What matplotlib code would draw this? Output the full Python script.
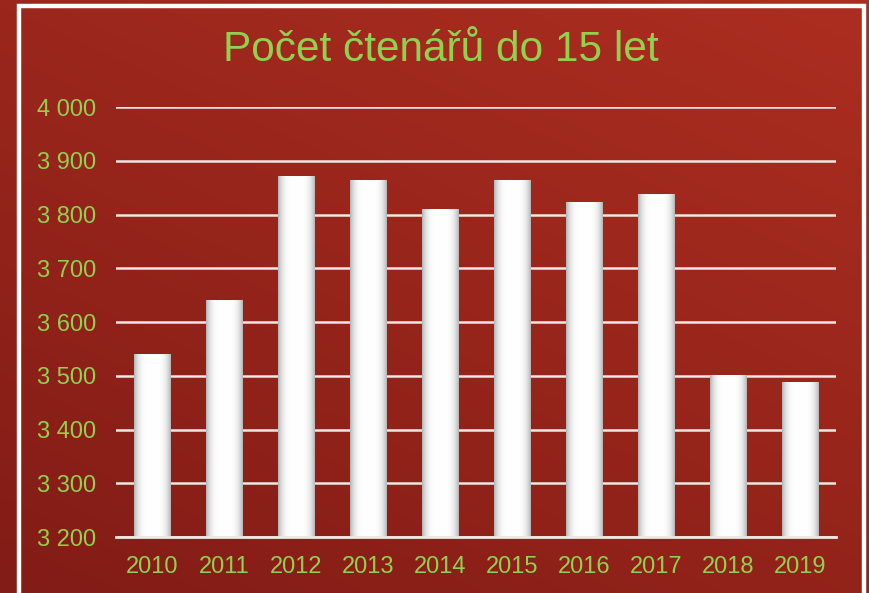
import numpy as np
import matplotlib
matplotlib.use('Agg')
import matplotlib.pyplot as plt
from matplotlib.ticker import FuncFormatter

years = ['2010', '2011', '2012', '2013', '2014', '2015', '2016', '2017', '2018', '2019']
readers = [3540, 3641, 3872, 3865, 3810, 3864, 3823, 3839, 3501, 3488]
y_ticks = [3200, 3300, 3400, 3500, 3600, 3700, 3800, 3900, 4000]

green = '#92D050'
plt.rcParams['font.family'] = ['Liberation Sans', 'DejaVu Sans']

fig = plt.figure(figsize=(8.70, 5.93), dpi=100)

# background gradient (lighter top right, darker bottom left)
bg = fig.add_axes([0, 0, 1, 1])
yy, xx = np.mgrid[0:1:200j, 0:1:200j]
t = 0.6*yy + 0.4*xx
top = np.array([172, 46, 32]) / 255.0
bot = np.array([130, 28, 22]) / 255.0
img = bot[None, None, :] + (top - bot)[None, None, :]*t[:, :, None]
bg.imshow(img, origin='lower', extent=[0, 1, 0, 1], aspect='auto')
bg.set_xlim(0, 1)
bg.set_ylim(0, 1)
bg.axis('off')
# white frame
bg.plot([0.0213, 0.0213, 0.9936, 0.9936], [-0.02, 0.9895, 0.9895, -0.02],
        color='white', lw=3.2, solid_joinstyle='miter')

ax = fig.add_axes([0.1333, 0.0944, 0.8276, 0.7251])
ax.patch.set_alpha(0)
x = np.arange(len(years))
bars = ax.bar(x, np.array(readers) - 3200, bottom=3200, width=0.5,
              color='white', edgecolor='none', zorder=3)

# cylinder-like shading on each bar
shade = np.linspace(-1, 1, 100)
prof = 1 - 0.3*np.abs(shade)**4
bar_img = np.dstack([prof, prof, prof]).repeat(2, axis=0)
for b in bars:
    x0 = b.get_x()
    w = b.get_width()
    im = ax.imshow(bar_img, extent=[x0, x0 + w, 3200, b.get_y() + b.get_height()],
                   aspect='auto', zorder=4, origin='lower', interpolation='bilinear')
    im.set_clip_path(b)

ax.set_xlim(-0.5, len(years) - 0.5)
ax.set_ylim(3200, 4000)
ax.set_yticks(y_ticks)
ax.yaxis.set_major_formatter(FuncFormatter(lambda v, p: '{:,}'.format(int(v)).replace(',', ' ')))
ax.set_xticks(x)
ax.set_xticklabels(years)
ax.grid(axis='y', color='#F0E6E4', lw=1.8, zorder=1)
ax.tick_params(axis='both', length=0, labelcolor=green, labelsize=17)
ax.tick_params(axis='y', pad=14)
ax.tick_params(axis='x', pad=14)
for s in ['top', 'right', 'left']:
    ax.spines[s].set_visible(False)
ax.spines['bottom'].set_color('#F0E6E4')
ax.spines['bottom'].set_linewidth(2)
ax.spines['bottom'].set_zorder(5)

fig.text(0.507, 0.915, 'Počet čtenářů do 15 let', color=green, fontsize=30.5,
         ha='center', va='center')

plt.savefig('out.png', dpi=100)
plt.close()
